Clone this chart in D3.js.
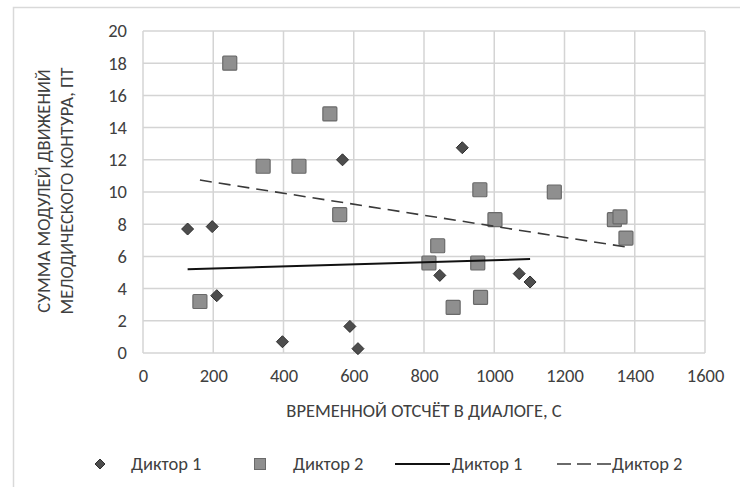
<!DOCTYPE html>
<html>
<head>
<meta charset="utf-8">
<script src="https://cdn.jsdelivr.net/npm/d3@7"></script>
<style>
  html, body { margin: 0; padding: 0; background: #fff; }
  svg text { font-family: Carlito, "Open Sans", "Liberation Sans", sans-serif; fill: #404040; }
</style>
</head>
<body>
<svg id="chart" width="740" height="487"></svg>
<script>
// Speaker 1 (diamonds): time in dialogue, s / sum of melodic contour movements, st
const speaker1X = [127, 197, 210, 397, 568, 589, 612, 909, 845, 1071, 1102];
const speaker1Y = [7.7, 7.85, 3.56, 0.7, 12.0, 1.65, 0.27, 12.75, 4.82, 4.93, 4.41];
// Speaker 2 (squares)
const speaker2X = [247, 342, 444, 532, 560, 162, 814, 839, 883, 953, 961, 959, 1002, 1171, 1342, 1358, 1375];
const speaker2Y = [18, 11.6, 11.6, 14.85, 8.6, 3.2, 5.59, 6.66, 2.83, 5.59, 3.45, 10.14, 8.28, 10.0, 8.28, 8.45, 7.14];

const xTicks = [0, 200, 400, 600, 800, 1000, 1200, 1400, 1600];
const yTicks = [0, 2, 4, 6, 8, 10, 12, 14, 16, 18, 20];
const seriesNames = ["Диктор 1", "Диктор 2"];
const xTitle = "ВРЕМЕННОЙ ОТСЧЁТ В ДИАЛОГЕ, С";
const yTitleLines = ["СУММА МОДУЛЕЙ ДВИЖЕНИЙ", "МЕЛОДИЧЕСКОГО КОНТУРА, ПТ"];

const FS = 18.5;
const svg = d3.select("#chart");
const x = d3.scaleLinear().domain([0, 1600]).range([143, 705]);
const y = d3.scaleLinear().domain([0, 20]).range([353, 31]);

// outer frame of the chart area
svg.append("rect").attr("x", 13.5).attr("y", 7.5).attr("width", 760).attr("height", 520)
  .attr("fill", "none").attr("stroke", "#d9d9d9").attr("stroke-width", 1.5);

// gridlines
const grid = svg.append("g");
grid.selectAll("line.v").data(xTicks).join("line")
  .attr("x1", d => x(d)).attr("x2", d => x(d)).attr("y1", y(0)).attr("y2", y(20))
  .attr("stroke", "#d4d4d4").attr("stroke-width", 1.5);
grid.selectAll("line.h").data(yTicks).join("line")
  .attr("x1", x(0)).attr("x2", x(1600)).attr("y1", d => y(d)).attr("y2", d => y(d))
  .attr("stroke", "#d4d4d4").attr("stroke-width", 1.5);

// axes (labels only, lines come from the grid)
const xAxis = d3.axisBottom(x).tickValues(xTicks).tickFormat(d3.format("d")).tickSize(0).tickPadding(16);
const yAxis = d3.axisLeft(y).tickValues(yTicks).tickFormat(d3.format("d")).tickSize(0).tickPadding(16);
const gx = svg.append("g").attr("transform", `translate(0,${y(0)})`).call(xAxis);
const gy = svg.append("g").attr("transform", `translate(${x(0)},0)`).call(yAxis);
[gx, gy].forEach(g => {
  g.select(".domain").remove();
  g.selectAll("text").attr("font-size", FS).attr("fill", "#404040")
    .style("font-family", 'Carlito, "Open Sans", "Liberation Sans", sans-serif');
});

// axis titles
svg.append("text").attr("x", 424).attr("y", 417).attr("text-anchor", "middle")
  .attr("font-size", FS).text(xTitle);
const yt = svg.append("text").attr("transform", "translate(50,191) rotate(-90)")
  .attr("text-anchor", "middle").attr("font-size", FS);
yt.append("tspan").attr("x", 0).attr("dy", 0).text(yTitleLines[0]);
yt.append("tspan").attr("x", 0).attr("dy", 23).text(yTitleLines[1]);

// least-squares trend for a series, drawn over its x-range
function trend(xs, ys) {
  const mx = d3.mean(xs), my = d3.mean(ys);
  const sxy = d3.sum(xs, (v, i) => (v - mx) * (ys[i] - my));
  const sxx = d3.sum(xs, v => (v - mx) * (v - mx));
  const b = sxy / sxx, a = my - b * mx;
  const [x0, x1] = d3.extent(xs);
  return [[x0, a + b * x0], [x1, a + b * x1]];
}
const line = d3.line().x(d => x(d[0])).y(d => y(d[1]));

// speaker 2 squares
const sq = 14;
svg.append("g").selectAll("rect").data(d3.zip(speaker2X, speaker2Y)).join("rect")
  .attr("x", d => x(d[0]) - sq / 2).attr("y", d => y(d[1]) - sq / 2)
  .attr("width", sq).attr("height", sq).attr("rx", 1)
  .attr("fill", "#8f8f8f").attr("stroke", "#6a6a6a").attr("stroke-width", 1.2);

// speaker 1 diamonds
const dr = 6;
const diamond = `M0,${-dr}L${dr},0L0,${dr}L${-dr},0Z`;
svg.append("g").selectAll("path").data(d3.zip(speaker1X, speaker1Y)).join("path")
  .attr("transform", d => `translate(${x(d[0])},${y(d[1])})`).attr("d", diamond)
  .attr("fill", "#4d4d4d").attr("stroke", "#2e2e2e").attr("stroke-width", 1);

// trend lines
svg.append("path").attr("d", line(trend(speaker1X, speaker1Y)))
  .attr("fill", "none").attr("stroke", "#111").attr("stroke-width", 2);
svg.append("path").attr("d", line(trend(speaker2X, speaker2Y)))
  .attr("fill", "none").attr("stroke", "#3a3a3a").attr("stroke-width", 1.6)
  .attr("stroke-dasharray", "12,7");

// legend
const ly = 464;
const lg = svg.append("g").attr("font-size", FS);
lg.append("path").attr("transform", `translate(100,${ly})`)
  .attr("d", "M0,-5L5,0L0,5L-5,0Z").attr("fill", "#4d4d4d").attr("stroke", "#2e2e2e");
lg.append("text").attr("x", 131).attr("y", ly + 6).text(seriesNames[0]);
lg.append("rect").attr("x", 254.5).attr("y", ly - 5.5).attr("width", 11).attr("height", 11)
  .attr("fill", "#8f8f8f").attr("stroke", "#6a6a6a");
lg.append("text").attr("x", 293).attr("y", ly + 6).text(seriesNames[1]);
lg.append("line").attr("x1", 395).attr("x2", 450).attr("y1", ly).attr("y2", ly)
  .attr("stroke", "#111").attr("stroke-width", 2);
lg.append("text").attr("x", 452).attr("y", ly + 6).text(seriesNames[0]);
lg.append("line").attr("x1", 557).attr("x2", 611).attr("y1", ly).attr("y2", ly)
  .attr("stroke", "#3a3a3a").attr("stroke-width", 1.6).attr("stroke-dasharray", "14,6");
lg.append("text").attr("x", 612).attr("y", ly + 6).text(seriesNames[1]);
</script>
</body>
</html>
